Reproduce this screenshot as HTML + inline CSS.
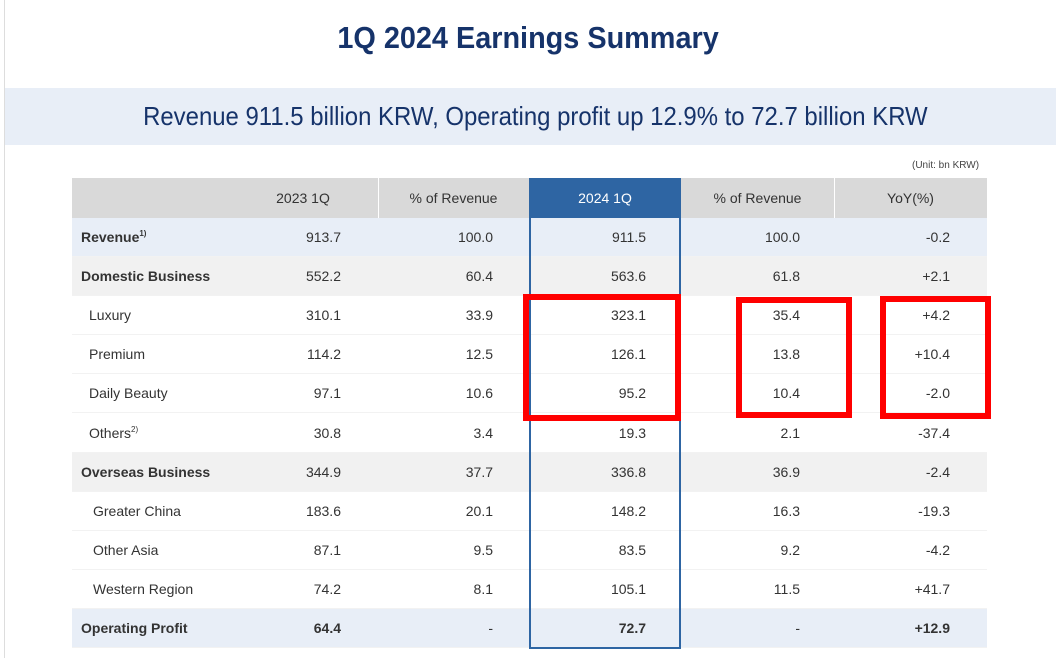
<!DOCTYPE html>
<html><head><meta charset="utf-8"><style>
body{margin:0;width:1056px;height:658px;background:#fff;position:relative;overflow:hidden;font-family:"Liberation Sans",sans-serif;color:#333}
.abs{position:absolute}
.title{left:0;width:1056px;top:20px;text-align:center;font-size:31px;font-weight:bold;color:#16336a}
.title span{display:inline-block;transform:scaleX(0.93)}
.sub span{display:inline-block;transform:scaleX(0.92)}
.band{left:5px;top:88px;width:1051px;height:57px;background:#e8eef7}
.sub{left:0;width:1070px;top:101px;text-align:center;font-size:26px;color:#16336a}
.unit{left:912px;top:160px;font-size:10px;color:#444}
sup{line-height:0;vertical-align:6px;font-size:8px}
</style></head><body>
<div class="abs" style="left:4px;top:0;width:1px;height:658px;background:#ddd"></div>
<div class="abs title"><span>1Q 2024 Earnings Summary</span></div>
<div class="abs band"></div>
<div class="abs sub"><span>Revenue 911.5 billion KRW, Operating profit up 12.9% to 72.7 billion KRW</span></div>
<div class="abs unit">(Unit: bn KRW)</div>
<div id="tbl" class="abs" style="left:0;top:0;width:1056px;height:658px"></div>
<script>
const rowLabels=["Revenue","Domestic Business","Luxury","Premium","Daily Beauty","Others","Overseas Business","Greater China","Other Asia","Western Region","Operating Profit"];
const rev2023=["913.7","552.2","310.1","114.2","97.1","30.8","344.9","183.6","87.1","74.2","64.4"];
const pct2023=["100.0","60.4","33.9","12.5","10.6","3.4","37.7","20.1","9.5","8.1","-"];
const rev2024=["911.5","563.6","323.1","126.1","95.2","19.3","336.8","148.2","83.5","105.1","72.7"];
const pct2024=["100.0","61.8","35.4","13.8","10.4","2.1","36.9","16.3","9.2","11.5","-"];
const yoy=["-0.2","+2.1","+4.2","+10.4","-2.0","-37.4","-2.4","-19.3","-4.2","+41.7","+12.9"];
const headers=["2023 1Q","% of Revenue","2024 1Q","% of Revenue","YoY(%)"];
const rowKind=["blue","grey","","","","","grey","","","","blue"];
const sup=["1)","","","","","2)","","","","",""];
const T=document.getElementById('tbl');
const L=72,R=987,TOP=178,HH=40,RH=39.1;
const colEdges=[228,378,529,681,834,987];
const rightX=[341,493,646,800,950];
function mk(css){const d=document.createElement('div');d.style.cssText=css;T.appendChild(d);return d;}
let h=mk(`position:absolute;left:${L}px;top:${TOP}px;width:${R-L}px;height:${HH}px;background:#d9d9d9`);


let hb=mk(`position:absolute;left:529px;top:${TOP}px;width:152px;height:${HH}px;background:#2e65a3`);


[378,834].forEach(x=>{
  let s=mk(`position:absolute;left:${x}px;top:${TOP}px;width:1px;height:${HH}px;background:#fff`);
  
  
});
for(let i=0;i<5;i++){
  let c=mk(`position:absolute;left:${colEdges[i]}px;width:${colEdges[i+1]-colEdges[i]}px;top:${TOP}px;line-height:${HH}px;text-align:center;font-size:14px;color:${i==2?'#fff':'#333'}`);
  c.textContent=headers[i];
  
  
}
rowLabels.forEach((lab,r)=>{
  const y=TOP+HH+r*RH;
  const bg=rowKind[r]=='blue'?'#e8eef7':rowKind[r]=='grey'?'#f1f1f1':'#fff';
  let row=mk(`position:absolute;left:${L}px;top:${y}px;width:${R-L}px;height:${RH}px;background:${bg};border-bottom:1px solid #f2f2f2;box-sizing:border-box`);
  
  
  const bold=rowKind[r]!='';
  const ind=bold?81:(r>=7?93:89);
  let lc=mk(`position:absolute;left:${ind}px;top:${y}px;line-height:${RH}px;font-size:14px;${bold?'font-weight:bold;':''}color:#333`);
  lc.innerHTML=lab+(sup[r]?`<sup>${sup[r]}</sup>`:'');
  
  
  [rev2023[r],pct2023[r],rev2024[r],pct2024[r],yoy[r]].forEach((v,i)=>{
    let c=mk(`position:absolute;left:${rightX[i]-100}px;width:100px;text-align:right;top:${y}px;line-height:${RH}px;font-size:14px;color:#333;${r==10&&i!=1&&i!=3?'font-weight:bold;':''}`);
    c.textContent=v;
    
    
  });
});
let ol=mk(`position:absolute;left:529px;top:${TOP}px;width:152px;height:${HH+11*RH+1}px;border:2px solid #2e65a3;box-sizing:border-box`);


const boxes=[[523,294,158,127],[736,297,116,121],[880,296,111,123]];
boxes.forEach(b=>{
  let d=mk(`position:absolute;left:${b[0]}px;top:${b[1]}px;width:${b[2]}px;height:${b[3]}px;border:6px solid #f00;box-sizing:border-box`);
  
  
});
</script>
</body></html>
